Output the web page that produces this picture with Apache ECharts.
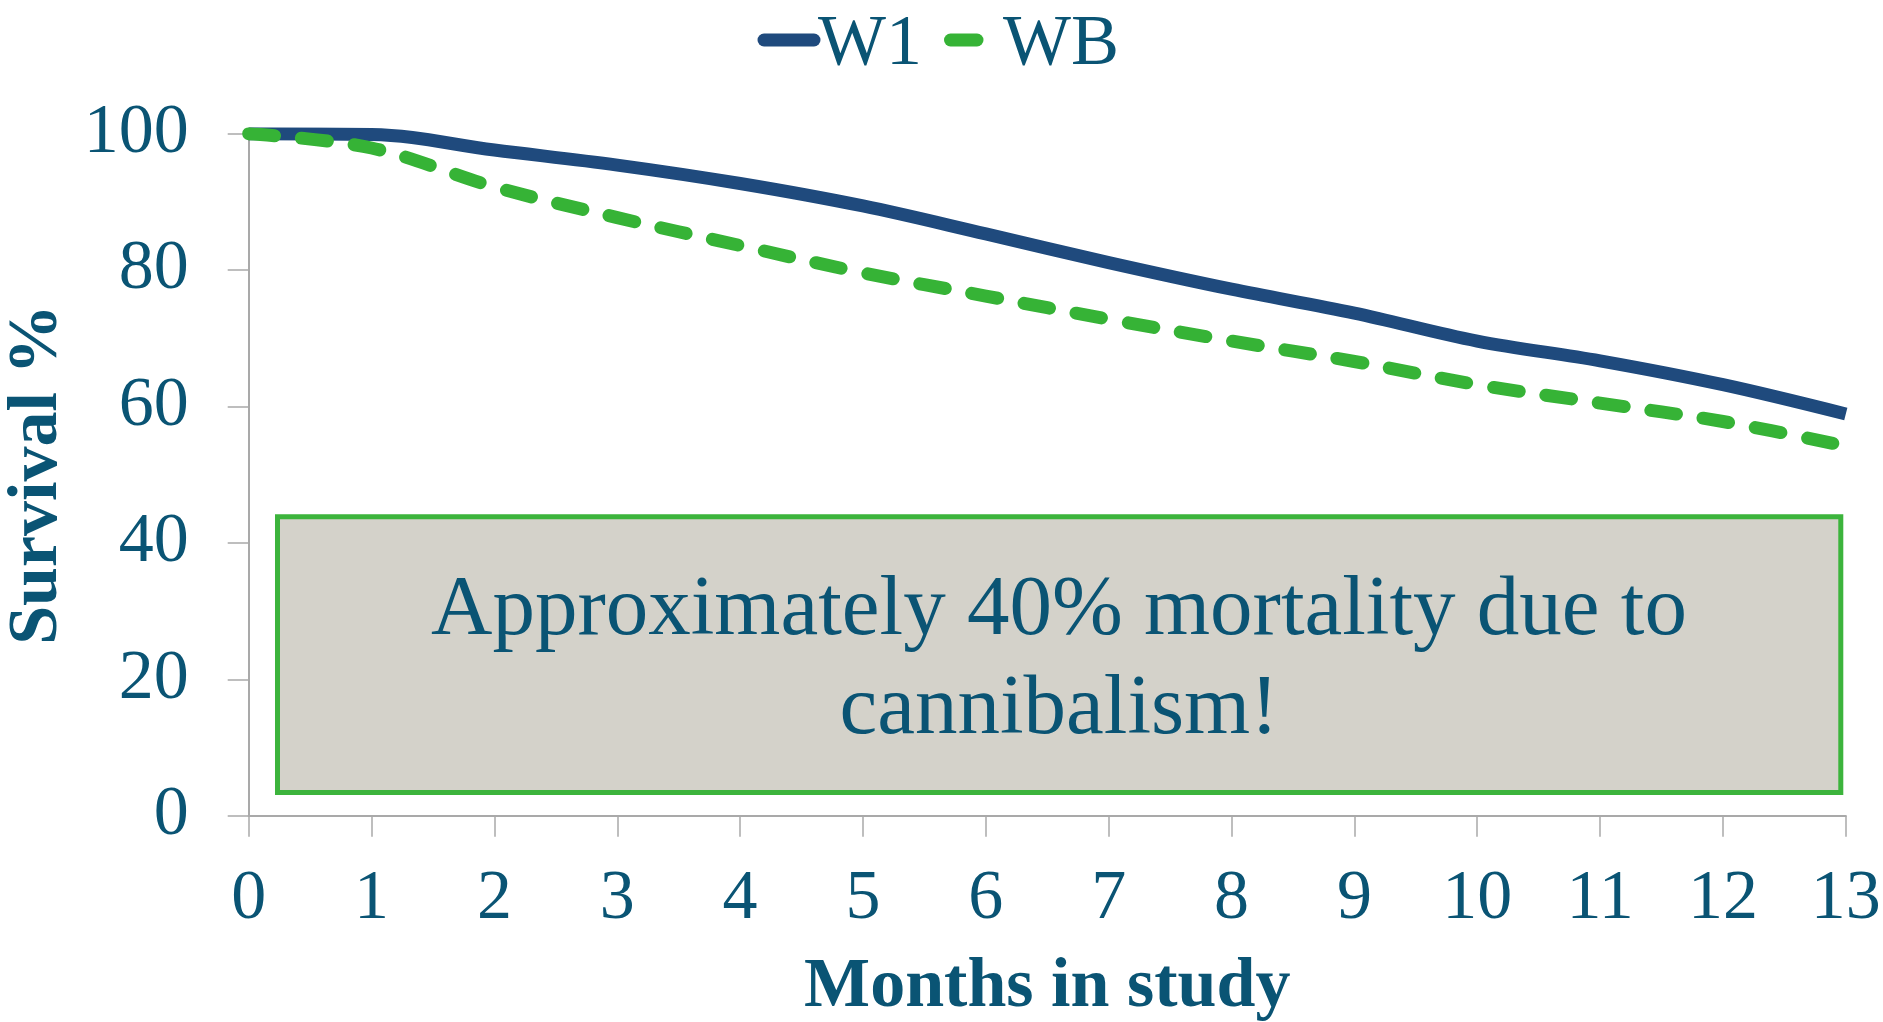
<!DOCTYPE html>
<html>
<head>
<meta charset="utf-8">
<title>Survival by month</title>
<script src="https://cdn.jsdelivr.net/npm/echarts@6/dist/echarts.min.js"></script>
<style>
  html, body { margin: 0; padding: 0; background: #ffffff; }
  #chart { width: 1883px; height: 1022px; }
</style>
</head>
<body>
<div id="chart"></div>
<script>
// Months in study (x values)
var months = [0, 1, 2, 3, 4, 5, 6, 7, 8, 9, 10, 11, 12, 13];
// Survival % per month
var w1Values = [100, 99.9, 97.6, 95.4, 92.7, 89.4, 85.3, 81.1, 77.2, 73.7, 69.6, 66.7, 63.2, 58.9];
var wbValues = [100, 97.9, 92.2, 87.7, 83.6, 79.6, 76.2, 72.8, 69.6, 66.6, 63.2, 60.5, 57.8, 54.2];
var seriesNames = ['W1', 'WB'];
var noteLines = ['Approximately 40% mortality due to', 'cannibalism!'];

var textColor = '#0a5474';
var serif = '"Liberation Serif", "Times New Roman", serif';
var axisGray = '#a9a9a9';
var w1Color = '#1f4a7d';
var wbColor = '#36b336';

function pairs(values) {
  return months.map(function (m, i) { return [m, values[i]]; });
}

var chart = echarts.init(document.getElementById('chart'), null, { renderer: 'canvas' });

chart.setOption({
  backgroundColor: '#ffffff',
  animation: false,
  textStyle: { fontFamily: serif },
  legend: {
    top: 4,
    left: 746,
    itemWidth: 62,
    itemHeight: 13,
    itemGap: 14,
    selectedMode: false,
    textStyle: { fontFamily: serif, fontSize: 72, color: textColor },
    // the swatches themselves are drawn below as graphic lines
    data: [
      { name: seriesNames[0], icon: 'rect', itemStyle: { color: 'rgba(0,0,0,0)', borderWidth: 0 }, lineStyle: { width: 0 } },
      { name: seriesNames[1], icon: 'rect', itemStyle: { color: 'rgba(0,0,0,0)', borderWidth: 0 }, lineStyle: { width: 0 } }
    ]
  },
  grid: {
    left: 248.7, right: 37.2, top: 133.7, bottom: 206.3,
    containLabel: false,
    outerBoundsMode: 'none'
  },
  xAxis: {
    type: 'value',
    min: 0,
    max: 13,
    interval: 1,
    name: 'Months in study',
    nameLocation: 'middle',
    nameGap: 137,
    nameTextStyle: { fontFamily: serif, fontSize: 70, fontWeight: 'bold', color: textColor },
    axisLine: { show: true, lineStyle: { color: axisGray, width: 2 } },
    axisTick: { show: true, length: 21, lineStyle: { color: axisGray, width: 1.5 } },
    axisLabel: { margin: 49, fontFamily: serif, fontSize: 70, color: textColor },
    splitLine: { show: false }
  },
  yAxis: {
    type: 'value',
    min: 0,
    max: 100,
    interval: 20,
    name: 'Survival %',
    nameLocation: 'middle',
    nameGap: 167,
    nameTextStyle: { fontFamily: serif, fontSize: 70, fontWeight: 'bold', color: textColor },
    axisLine: { show: true, lineStyle: { color: axisGray, width: 2 } },
    axisTick: { show: true, length: 21, lineStyle: { color: axisGray, width: 1.5 } },
    axisLabel: { margin: 60, fontFamily: serif, fontSize: 70, color: textColor },
    splitLine: { show: false }
  },
  series: [
    {
      name: seriesNames[0],
      type: 'line',
      data: pairs(w1Values),
      smooth: 0.35,
      showSymbol: false,
      symbol: 'none',
      clip: true,
      z: 3,
      lineStyle: { color: w1Color, width: 13, cap: 'butt', join: 'round' },
      itemStyle: { color: w1Color }
    },
    {
      name: seriesNames[1],
      type: 'line',
      data: pairs(wbValues),
      smooth: 0.35,
      showSymbol: false,
      symbol: 'none',
      clip: true,
      z: 4,
      lineStyle: { color: wbColor, width: 13, type: [26, 27], cap: 'round', join: 'round' },
      itemStyle: { color: wbColor }
    }
  ],
  graphic: [
    {
      type: 'rect',
      z: 10,
      shape: { x: 277.5, y: 516.8, width: 1563.3, height: 275.7 },
      style: { fill: '#d4d2ca', stroke: '#3cb43c', lineWidth: 5 }
    },
    {
      type: 'text',
      z: 11,
      x: 1059,
      y: 661,
      style: {
        text: noteLines.join('\n'),
        fontFamily: serif,
        fontSize: 85,
        lineHeight: 99,
        fill: textColor,
        align: 'center',
        verticalAlign: 'middle'
      }
    },
    // legend swatches drawn with the series line styles
    {
      type: 'line',
      z: 12,
      shape: { x1: 764, y1: 40, x2: 814, y2: 40 },
      style: { stroke: w1Color, lineWidth: 13, lineCap: 'round' }
    },
    {
      type: 'line',
      z: 12,
      shape: { x1: 950.5, y1: 40, x2: 977, y2: 40 },
      style: { stroke: wbColor, lineWidth: 13, lineCap: 'round' }
    }
  ]
});
</script>
</body>
</html>
